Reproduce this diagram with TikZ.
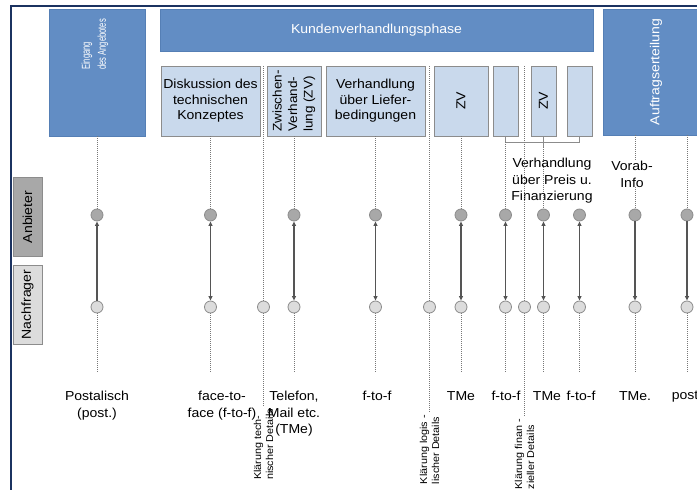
\documentclass[tikz,border=0pt]{standalone}
\usepackage{fontspec}
\setmainfont{Liberation Sans}[FakeStretch=1.08]
\newfontfamily\narrowfont{Liberation Sans}[FakeStretch=0.66]
\usepackage{tikz}
\usetikzlibrary{arrows.meta}
\definecolor{frame}{HTML}{1B3260}
\definecolor{phase}{HTML}{628DC4}
\definecolor{phaseline}{HTML}{557FB5}
\definecolor{stepfill}{HTML}{C9D9EC}
\definecolor{stepline}{HTML}{8C8C8C}
\definecolor{anbfill}{HTML}{A8A8A8}
\definecolor{nachfill}{HTML}{DCDCDC}
\definecolor{wire}{HTML}{555555}
\newcommand{\Contact}[3]{%
  \node[anb] (a#1) at (#2,215) {};
  \node[nach] (n#1) at (#2,307) {};
  \coordinate (b#1) at (#2,373);
  \draw[talk,#3] (n#1) -- (a#1);
  \draw[guide] (n#1) -- (b#1);
}
\newcommand{\Detail}[4]{%
  \node[nach] (k#1) at (#2,307) {};
  \coordinate (kt#1) at (#2,66);
  \coordinate (kb#1) at (#2,#3);
  \draw[guide] (kt#1) -- (k#1);
  \draw[guide] (k#1) -- (kb#1);
  \node[note] (kl#1) at (kb#1) {#4};
}

\begin{document}
\begin{tikzpicture}[x=1pt,y=-1pt,font=\fontsize{13}{15.5}\selectfont,
  >={Triangle[length=4.5pt,width=4pt]},
  phasebox/.style={fill=phase,draw=phaseline,text=white,inner sep=0pt},
  stepbox/.style={fill=stepfill,draw=stepline,line width=0.8pt,inner sep=0pt,
    minimum height=70pt,align=center},
  lanebox/.style={draw=stepline,line width=0.8pt,rotate=90,inner sep=0pt,
    minimum width=79pt,minimum height=29pt},
  upright/.style={rotate=90,inner sep=0pt,align=center},
  anb/.style={circle,draw=stepline,fill=anbfill,line width=0.8pt,
    minimum size=12pt,inner sep=0pt},
  nach/.style={anb,fill=nachfill},
  talk/.style={draw=wire,line width=1.4pt},
  guide/.style={draw=wire!80,line width=1pt,dash pattern=on 1pt off 1pt},
  brace/.style={draw=stepline,line width=0.8pt},
  lbl/.style={align=center,anchor=north,inner sep=0pt,
    font=\fontsize{13}{16.5}\selectfont},
  note/.style={align=left,rotate=90,anchor=east,inner sep=0pt,outer sep=2pt,
    font=\fontsize{10}{12}\selectfont}]
  \clip (0,0) rectangle (697,490);
  \fill[white] (0,0) rectangle (697,490);
  \draw[frame,line width=2pt] (11,6) rectangle (760,540);

  \node[phasebox,minimum width=96pt,minimum height=127pt] (eing) at (97,72.5) {};
  \node[upright,align=left,text=white,anchor=west,
    font=\narrowfont\fontsize{11.5}{16}\selectfont]
    (eingt) at (95,70) {Eingang\\des Angebotes};
  \node[phasebox,minimum width=433pt,minimum height=42pt] (kund) at (376.5,30)
    {Kundenverhandlungsphase};
  \node[phasebox,minimum width=117pt,minimum height=126pt] (auft) at (661.5,72) {};
  \node[upright,text=white] (auftt) at (656,72) {Auftragserteilung};

  \node[stepbox,minimum width=99pt] (disk) at (210.5,101)
    {Diskussion des\\technischen\\Konzeptes};
  \node[stepbox,minimum width=54pt] (zw) at (294,101) {};
  \node[upright,align=left,font=\fontsize{12.5}{15.5}\selectfont] (zwt) at (zw)
    {Zwischen-\\Verhand-\\lung (ZV)};
  \node[stepbox,minimum width=99pt] (verh) at (375.5,101)
    {Verhandlung\\über Liefer-\\bedingungen};
  \node[stepbox,minimum width=54pt] (zv1) at (461,101) {};
  \node[upright] (zv1t) at (zv1) {ZV};
  \node[stepbox,minimum width=25pt] (e1) at (505.5,101) {};
  \node[stepbox,minimum width=25pt] (zv2) at (543.5,101) {};
  \node[upright] (zv2t) at (zv2) {ZV};
  \node[stepbox,minimum width=25pt] (e2) at (579.5,101) {};

  \node[lanebox,fill=anbfill] (anbl) at (27.5,217) {Anbieter};
  \node[lanebox,fill=nachfill] (nachl) at (27.5,304.5) {Nachfrager};

  \Contact{1}{97}{->}
  \Contact{2}{210.5}{<->}
  \Contact{3}{294}{<->}
  \Contact{4}{375.5}{<->}
  \Contact{5}{461}{<->}
  \Contact{6}{505.5}{<->}
  \Contact{7}{543.5}{<->}
  \Contact{8}{579.5}{<->}
  \Contact{9}{635}{<-}
  \Contact{10}{687}{<-}

  \draw[guide] (eing.south) -- (a1);
  \draw[guide] (disk.south) -- (a2);
  \draw[guide] (zw.south) -- (a3);
  \draw[guide] (verh.south) -- (a4);
  \draw[guide] (zv1.south) -- (a5);

  \coordinate (bl) at (505.5,142);
  \coordinate (br) at (579.5,142);
  \coordinate (bt) at (543.5,147);
  \draw[brace] (e1.south) -- (bl) -- (br) -- (e2.south);
  \draw[brace] (zv2.south) -- (bt);
  \draw[guide] (bl) -- (a6);
  \draw[guide] (bt) -- (a7);
  \node[lbl] (preis) at (552,158) {Verhandlung\\über Preis u.\\Finanzierung};

  \node[lbl] (vorab) at (632,161) {Vorab-\\Info};
  \draw[guide] (auft.south -| a9) -- (vorab.north -| a9);
  \draw[guide] (vorab.south -| a9) -- (a9);
  \draw[guide] (auft.south -| a10) -- (a10);

  \Detail{1}{263.5}{407}{Klärung tech-\\nischer Details}
  \Detail{2}{429.5}{413}{Klärung logis -\\lischer Details}
  \Detail{3}{524.5}{417}{Klärung finan -\\zieller Details}

  \node[lbl] (m1) at (97,391) {Postalisch\\(post.)};
  \node[lbl] (m2) at (222,391) {face-to-\\face (f-to-f)};
  \node[lbl] (m3) at (294,391) {Telefon,\\Mail etc.\\(TMe)};
  \node[lbl] (m4) at (377,391) {f-to-f};
  \node[lbl] (m5) at (461,391) {TMe};
  \node[lbl] (m6) at (506,391) {f-to-f};
  \node[lbl] (m7) at (547,391) {TMe};
  \node[lbl] (m8) at (581,391) {f-to-f};
  \node[lbl] (m9) at (635,391) {TMe.};
  \node[lbl] (m10) at (687,391) {post.};
\end{tikzpicture}
\end{document}
